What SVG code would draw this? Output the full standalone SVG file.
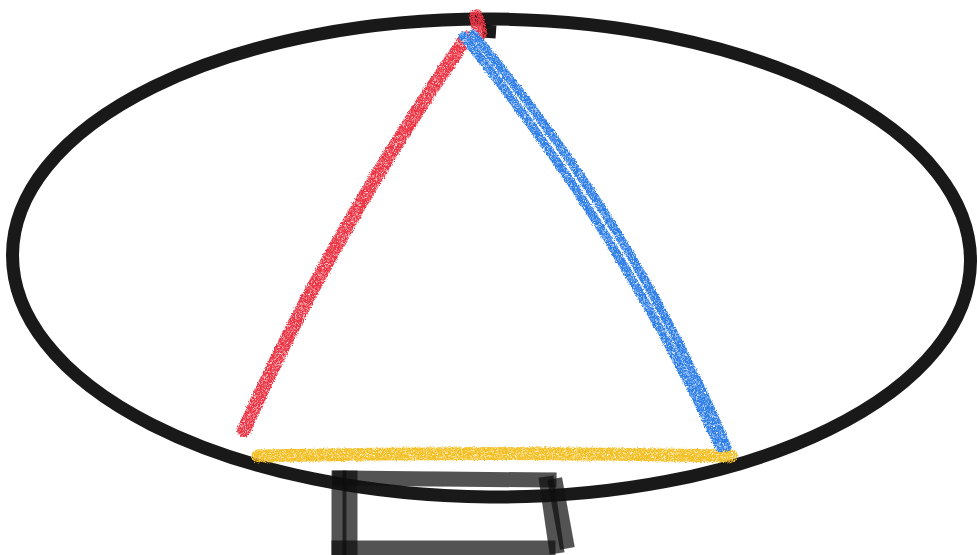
<svg xmlns="http://www.w3.org/2000/svg" width="977" height="555" viewBox="0 0 977 555">
<defs>
<filter id="crayon" x="-5%" y="-5%" width="110%" height="110%">
<feTurbulence type="fractalNoise" baseFrequency="0.9" numOctaves="2" seed="3" result="n"/>
<feColorMatrix in="n" type="matrix" values="0 0 0 0 0  0 0 0 0 0  0 0 0 0 0  0 0 0 -2.4 2.1" result="a"/>
<feComposite in="SourceGraphic" in2="a" operator="in" result="t"/>
<feDisplacementMap in="t" in2="n" scale="4" xChannelSelector="R" yChannelSelector="G"/>
</filter>
<filter id="soft"><feGaussianBlur stdDeviation="0.7"/></filter>
</defs>
<style>
.ink{fill:none;stroke:#000;stroke-opacity:0.9;stroke-width:13}
.box{fill:none;stroke:#111;stroke-opacity:0.72;stroke-width:15;stroke-linecap:square}
.red{fill:none;stroke:#ec3444;stroke-width:14;stroke-linecap:round}
.blue{fill:none;stroke:#2e7ee8;stroke-width:9;stroke-linecap:round}
.yellow{fill:none;stroke:#f4bf22;stroke-width:13;stroke-linecap:round}
</style>
<rect width="977" height="555" fill="#fff"/>
<g id="ring" filter="url(#soft)">
<ellipse class="ink" cx="491.5" cy="258" rx="479" ry="239" transform="rotate(0.4 491 258)"/>
<path class="ink" d="M482 31 L496 32" stroke-width="4"/>
</g>
<g id="stand" filter="url(#soft)">
<path class="box" d="M340 478 L549 480"/>
<path class="box" d="M339 478 L339 552"/>
<path class="box" d="M350 478 L350 552"/>
<path class="box" d="M339 548 L548 548"/>
<path class="box" d="M547 484 L556 546"/>
<path class="box" d="M556 486 L566 541"/>
</g>
<g id="triangle" filter="url(#crayon)">
<path class="yellow" d="M258 456 Q495 451 731 456"/>
<path class="red" d="M244 430 Q330 235 466 38"/>
<path class="red" d="M476 16 L480 33" stroke-width="9"/>
<path class="blue" d="M463 36 Q620 230 720 448"/>
<path class="blue" d="M473 34 Q632 222 727 447"/>
</g>
</svg>
